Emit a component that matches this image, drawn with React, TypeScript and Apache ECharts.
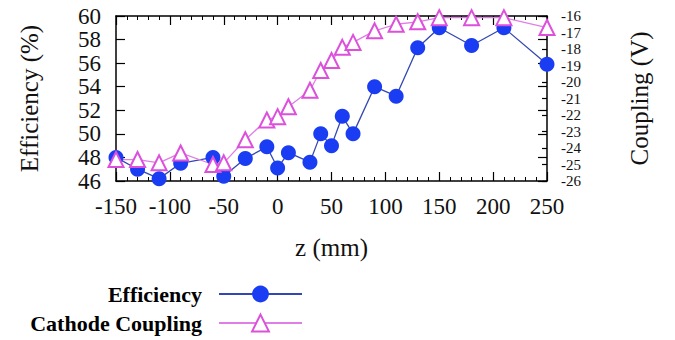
import React, { useEffect, useRef } from "react";
import * as echarts from "echarts";

// z positions (mm)
const zPositions = [-150, -130, -110, -90, -60, -50, -30, -10, 0, 10, 30, 40, 50, 60, 70, 90, 110, 130, 150, 180, 210, 250];
// Efficiency (%)
const efficiency = [48.0, 47.0, 46.2, 47.5, 48.0, 46.4, 47.9, 48.9, 47.1, 48.4, 47.6, 50.0, 49.0, 51.5, 50.0, 54.0, 53.2, 57.3, 59.0, 57.5, 59.0, 55.9];
// Cathode coupling (V)
const coupling = [-24.7, -24.7, -24.9, -24.3, -25.0, -24.9, -23.5, -22.3, -22.1, -21.5, -20.5, -19.3, -18.7, -17.9, -17.6, -16.9, -16.5, -16.35, -16.1, -16.1, -16.1, -16.7];

const seriesNames = ["Efficiency", "Cathode Coupling"];
const xLabel = "z (mm)";
const yLabel = "Efficiency (%)";
const y2Label = "Coupling (V)";

const FONT = "Liberation Serif";

export default function App() {
  const ref = useRef<HTMLDivElement>(null);
  useEffect(() => {
    if (!ref.current) return;
    const chart = echarts.init(ref.current, undefined, { renderer: "svg" });
    const axisLine = { show: true, onZero: false, lineStyle: { color: "#000", width: 1.5 } };
    const xCommon = {
      type: "value" as const,
      min: -150,
      max: 250,
      interval: 50,
      axisLine,
      axisTick: { show: true, inside: true, length: 9, lineStyle: { color: "#000", width: 1.2 } },
      minorTick: { show: true, splitNumber: 5, length: 4, lineStyle: { color: "#000", width: 1 } },
      splitLine: { show: false },
    };
    chart.setOption({
      animation: false,
      backgroundColor: "#fff",
      grid: { left: 116, right: 128, top: 16, bottom: 159, containLabel: false },
      legend: {
        orient: "vertical",
        align: "right",
        right: 372,
        top: 283,
        padding: 0,
        itemGap: 7,
        itemWidth: 83,
        itemHeight: 21,
        textStyle: { fontFamily: FONT, fontWeight: "bold", fontSize: 22, color: "#000", padding: [0, 12, 0, 0] },
        data: seriesNames,
      },
      xAxis: [
        {
          ...xCommon,
          position: "bottom",
          axisLabel: { fontFamily: FONT, fontSize: 23, color: "#111", margin: 14 },
          name: xLabel,
          nameLocation: "middle",
          nameGap: 54,
          nameTextStyle: { fontFamily: FONT, fontSize: 25, color: "#111" },
        },
        {
          ...xCommon,
          position: "top",
          axisLabel: { show: false },
        },
      ],
      yAxis: [
        {
          type: "value",
          position: "left",
          min: 46,
          max: 60,
          interval: 2,
          axisLine,
          axisTick: { show: true, inside: true, length: 9, lineStyle: { color: "#000", width: 1.2 } },
          axisLabel: { fontFamily: FONT, fontSize: 23, color: "#111", margin: 15 },
          splitLine: { show: false },
          name: yLabel,
          nameLocation: "middle",
          nameRotate: 90,
          nameGap: 74,
          nameTextStyle: { fontFamily: FONT, fontSize: 25, color: "#111" },
        },
        {
          type: "value",
          position: "right",
          min: -26,
          max: -16,
          interval: 1,
          axisLine,
          axisTick: { show: true, inside: true, length: 5, lineStyle: { color: "#000", width: 1.2 } },
          axisLabel: {
            fontFamily: FONT,
            fontSize: 15,
            color: "#111",
            margin: 14,
            lineHeight: 14,
            showMinLabel: true,
            showMaxLabel: true,
            hideOverlap: false,
          },
          splitLine: { show: false },
          name: y2Label,
          nameLocation: "middle",
          nameRotate: 90,
          nameGap: 80,
          nameTextStyle: { fontFamily: FONT, fontSize: 25, color: "#111" },
        },
        {
          type: "value",
          position: "right",
          min: 46,
          max: 60,
          interval: 2,
          axisLine: { show: false, onZero: false },
          axisTick: { show: true, inside: true, length: 9, lineStyle: { color: "#000", width: 1.2 } },
          axisLabel: { show: false },
          splitLine: { show: false },
        },
      ],
      series: [
        {
          name: seriesNames[0],
          type: "line",
          xAxisIndex: 0,
          yAxisIndex: 0,
          data: zPositions.map((z, i) => [z, efficiency[i]]),
          symbol: "circle",
          symbolSize: 15,
          itemStyle: { color: "#1a3cf2" },
          lineStyle: { color: "#3347b2", width: 1.3 },
          clip: false,
        },
        {
          name: seriesNames[1],
          type: "line",
          xAxisIndex: 0,
          yAxisIndex: 1,
          data: zPositions.map((z, i) => [z, coupling[i]]),
          symbol: "emptyTriangle",
          symbolSize: 15,
          itemStyle: { color: "#dc50dc", borderWidth: 1.3 },
          lineStyle: { color: "#e07de6", width: 1.3 },
          clip: false,
        },
      ],
    });
    return () => chart.dispose();
  }, []);
  return <div ref={ref} style={{ position: "fixed", left: 0, top: 0, width: 675, height: 340, background: "#fff" }} />;
}
